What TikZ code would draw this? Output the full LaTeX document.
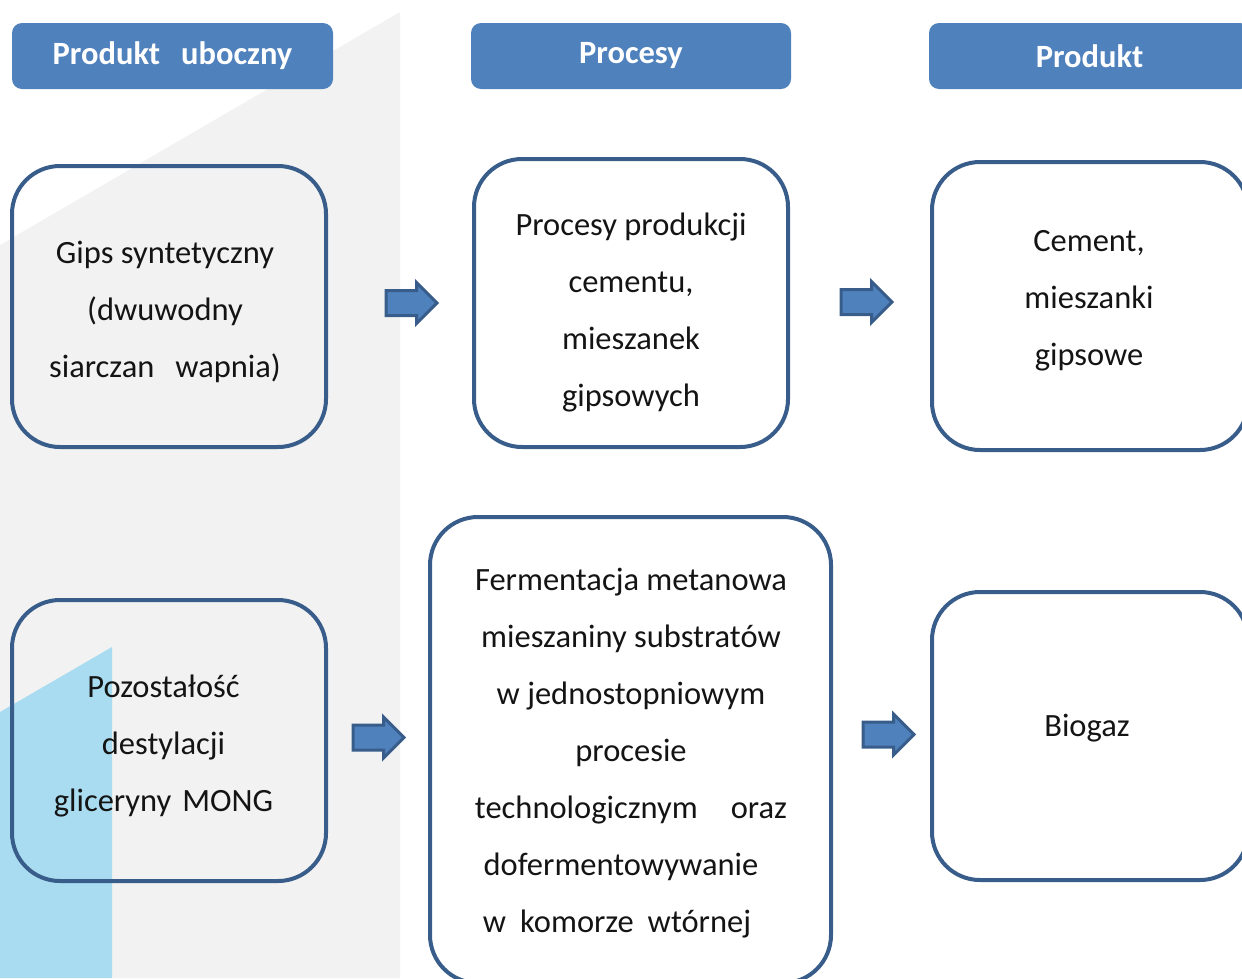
\documentclass[tikz,border=0pt]{standalone}
\usepackage{fontspec}
\setmainfont{Carlito}
\usetikzlibrary{shapes.arrows}
\definecolor{headblue}{HTML}{4F81BD}
\definecolor{frameblue}{HTML}{385D8A}
\definecolor{panelgrey}{HTML}{F2F2F2}
\definecolor{skyblue}{HTML}{A9DCF1}
\definecolor{ink}{HTML}{141414}

\begin{document}
\begin{tikzpicture}[x=1pt, y=-1pt]
  \tikzset{hd/.style={fill=headblue, rounded corners=10pt, minimum height=66pt, text=white, font=\fontsize{32.5}{38}\selectfont\bfseries},
    bx/.style={draw=frameblue, line width=4pt, rounded corners=48pt},
    txt/.style={align=center, text=ink, inner sep=0pt, font=\fontsize{32.5}{57}\selectfont},
    arw/.style={single arrow, draw=frameblue, fill=headblue, line width=3pt, minimum height=51pt, minimum width=39pt, single arrow head extend=8pt, inner sep=11pt, anchor=tail}}
\useasboundingbox (0,0) rectangle (1242,978);
\clip (0,0) rectangle (1242,978);
% background bands
\fill[panelgrey] (0,245) -- (400,12) -- (400,978) -- (0,978) -- cycle;
\fill[skyblue] (0,712) -- (112,647) -- (112,978) -- (0,978) -- cycle;
% column headers
\node[hd, minimum width=321pt] (hbyp) at (172.5,56) {Produkt\hspace{21pt}uboczny};
\node[hd, minimum width=320pt] (hproc) at (631,56) {Procesy};
\node[hd, minimum width=321pt] (hprod) at (1089.5,56) {Produkt};
% upper row
\node[bx, minimum width=314pt, minimum height=281pt] (gips) at (169,306.5) {};
\node[txt] (gipstxt) at (165,312) {Gips syntetyczny\\(dwuwodny\\siarczan\hspace{21pt}wapnia)};
\node[bx, minimum width=314pt, minimum height=288pt] (cemproc) at (631,303) {};
\node[txt] (cemproctxt) at (631,312.5) {Procesy produkcji\\cementu,\\mieszanek\\gipsowych};
\node[bx, minimum width=316pt, minimum height=288pt] (cement) at (1090,306) {};
\node[txt] (cementtxt) at (1089,300.5) {Cement,\\mieszanki\\gipsowe};
% lower row
\node[bx, minimum width=314pt, minimum height=281pt] (mong) at (169,740.5) {};
\node[txt] (mongtxt) at (163.5,745.5) {Pozostałość\\destylacji\\gliceryny\hspace{11pt}MONG};
\node[bx, minimum width=401pt, minimum height=466pt] (ferm) at (630.5,750) {};
\node[txt] (fermtxt) at (631,753) {Fermentacja metanowa\\mieszaniny substratów\\w jednostopniowym\\procesie\\technologicznym\hspace{33pt}oraz\\dofermentowywanie\makebox[20pt]{}\\w\hspace{14pt}komorze\hspace{14pt}wtórnej\makebox[28pt]{}};
\node[bx, minimum width=316pt, minimum height=288pt] (biogaz) at (1090,736) {};
\node[txt] (biogaztxt) at (1087,728) {Biogaz};
% block arrows
\node[arw] (a1) at (384.5,303) {};
\node[arw] (a2) at (839.5,302) {};
\node[arw] (a3) at (351.5,737.5) {};
\node[arw] (a4) at (861.5,734.5) {};
\end{tikzpicture}
\end{document}
